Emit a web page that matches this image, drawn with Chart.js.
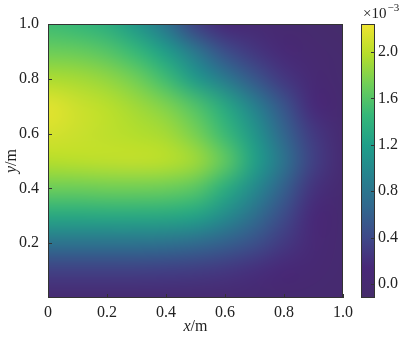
<!DOCTYPE html>
<html>
<head>
<meta charset="utf-8">
<script src="https://cdn.jsdelivr.net/npm/chart.js@4.4.0/dist/chart.umd.min.js"></script>
<style>
  html, body { margin: 0; padding: 0; background: #fff; }
  #wrap { position: relative; width: 411px; height: 339px; }
  #wrap canvas { position: absolute; left: 0; top: 0; }
</style>
</head>
<body>
<div id="wrap">
  <canvas id="main" width="411" height="339"></canvas>
  <canvas id="cbar" width="411" height="339"></canvas>
</div>
<script>
// grid nodes (m)
const xNodes = [0.0, 0.1, 0.2, 0.3, 0.4, 0.5, 0.6, 0.7, 0.8, 0.9, 1.0];
const yNodes = [1.0, 0.9, 0.8, 0.7, 0.6, 0.5, 0.4, 0.3, 0.2, 0.1, 0.0];

// values in units of 1e-3, one row per y node (top to bottom)
const rowY10 = [1.50, 1.45, 1.35, 1.12, 0.78, 0.33, 0.13, 0.04, 0.00, -0.05, -0.10];
const rowY09 = [1.70, 1.68, 1.60, 1.45, 1.18, 0.82, 0.45, 0.25, 0.10, 0.02, -0.04];
const rowY08 = [1.95, 1.92, 1.85, 1.72, 1.50, 1.15, 0.85, 0.52, 0.26, 0.07, -0.03];
const rowY07 = [2.18, 2.08, 2.00, 1.90, 1.78, 1.58, 1.30, 0.92, 0.50, 0.15, 0.00];
const rowY06 = [2.12, 2.07, 2.02, 1.97, 1.92, 1.75, 1.48, 1.12, 0.65, 0.28, 0.02];
const rowY05 = [1.98, 2.00, 2.02, 2.03, 2.00, 1.90, 1.65, 1.22, 0.78, 0.33, 0.03];
const rowY04 = [1.70, 1.70, 1.72, 1.72, 1.70, 1.62, 1.35, 1.00, 0.60, 0.22, 0.00];
const rowY03 = [1.30, 1.30, 1.31, 1.31, 1.30, 1.24, 1.02, 0.74, 0.42, 0.14, 0.00];
const rowY02 = [0.78, 0.78, 0.78, 0.78, 0.76, 0.70, 0.60, 0.46, 0.28, 0.10, 0.00];
const rowY01 = [0.33, 0.33, 0.33, 0.33, 0.32, 0.30, 0.26, 0.20, 0.12, 0.05, 0.00];
const rowY00 = [0.03, 0.03, 0.03, 0.03, 0.03, 0.02, 0.02, 0.01, 0.00, 0.00, -0.02];
const field = [rowY10, rowY09, rowY08, rowY07, rowY06, rowY05, rowY04, rowY03, rowY02, rowY01, rowY00];

const xTicks = [0, 0.2, 0.4, 0.6, 0.8, 1.0];
const yTicks = [0.2, 0.4, 0.6, 0.8, 1.0];
const cbTicks = [0.0, 0.4, 0.8, 1.2, 1.6, 2.0];
const cbMin = -0.12;
const cbMax = 2.24;

// viridis, slightly muted at both ends like the reference
const viridisStops = ['#452c6a', '#482878', '#3e4989', '#31688e', '#26828e',
                      '#1f9e89', '#35b779', '#6ece58', '#b5de2b', '#f0e430'];

function hexToRgb(h) {
  return [parseInt(h.slice(1, 3), 16), parseInt(h.slice(3, 5), 16), parseInt(h.slice(5, 7), 16)];
}
const stopRgb = viridisStops.map(hexToRgb);

function viridis(t) {
  t = Math.max(0, Math.min(1, t));
  const p = t * (stopRgb.length - 1);
  const i = Math.min(stopRgb.length - 2, Math.floor(p));
  const f = p - i;
  return stopRgb[i].map((c, k) => Math.round(c + (stopRgb[i + 1][k] - c) * f));
}

const FONT = 'Liberation Serif, DejaVu Serif, serif';
const TXT = '#222';

const heatmap = {
  id: 'heatmap',
  beforeDatasetsDraw(chart) {
    const { ctx, chartArea: a, scales: { x, y } } = chart;
    const nx = xNodes.length, ny = yNodes.length;
    const off = document.createElement('canvas');
    off.width = nx; off.height = ny;
    const octx = off.getContext('2d');
    const img = octx.createImageData(nx, ny);
    for (let j = 0; j < ny; j++) {
      for (let i = 0; i < nx; i++) {
        const c = viridis((field[j][i] - cbMin) / (cbMax - cbMin));
        const k = (j * nx + i) * 4;
        img.data[k] = c[0]; img.data[k + 1] = c[1]; img.data[k + 2] = c[2]; img.data[k + 3] = 255;
      }
    }
    octx.putImageData(img, 0, 0);
    const hx = (xNodes[1] - xNodes[0]) / 2, hy = (yNodes[0] - yNodes[1]) / 2;
    const left = x.getPixelForValue(xNodes[0] - hx);
    const right = x.getPixelForValue(xNodes[nx - 1] + hx);
    const top = y.getPixelForValue(yNodes[0] + hy);
    const bottom = y.getPixelForValue(yNodes[ny - 1] - hy);
    ctx.save();
    ctx.beginPath();
    ctx.rect(a.left, a.top, a.width, a.height);
    ctx.clip();
    ctx.imageSmoothingEnabled = true;
    ctx.imageSmoothingQuality = 'high';
    ctx.drawImage(off, left, top, right - left, bottom - top);
    ctx.restore();
  },
  afterDraw(chart) {
    const { ctx, chartArea: a, scales: { x, y } } = chart;
    ctx.save();
    ctx.strokeStyle = '#333';
    ctx.lineWidth = 1;
    ctx.strokeRect(a.left + 0.5, a.top + 0.5, a.width - 1, a.height - 1);
    ctx.beginPath();
    xTicks.forEach(v => {
      const px = Math.round(x.getPixelForValue(v)) + 0.5;
      ctx.moveTo(px, a.bottom); ctx.lineTo(px, a.bottom - 4);
    });
    yTicks.forEach(v => {
      const py = Math.round(y.getPixelForValue(v)) + 0.5;
      ctx.moveTo(a.left, py); ctx.lineTo(a.left + 4, py);
    });
    ctx.stroke();

    // axis titles
    ctx.fillStyle = TXT;
    ctx.textBaseline = 'alphabetic';
    ctx.font = 'italic 16px ' + FONT;
    const wx = ctx.measureText('x').width;
    ctx.font = '16px ' + FONT;
    const wm = ctx.measureText('/m').width;
    const cx = (a.left + a.right) / 2;
    let sx = cx - (wx + wm) / 2;
    ctx.font = 'italic 16px ' + FONT;
    ctx.fillText('x', sx, 331);
    ctx.font = '16px ' + FONT;
    ctx.fillText('/m', sx + wx, 331);

    ctx.translate(16, (a.top + a.bottom) / 2);
    ctx.rotate(-Math.PI / 2);
    ctx.font = 'italic 16px ' + FONT;
    const wy = ctx.measureText('y').width;
    sx = -(wy + wm) / 2;
    ctx.fillText('y', sx, 0);
    ctx.font = '16px ' + FONT;
    ctx.fillText('/m', sx + wy, 0);
    ctx.restore();
  }
};

new Chart(document.getElementById('main'), {
  type: 'scatter',
  data: { datasets: [] },
  options: {
    responsive: false,
    animation: false,
    layout: { padding: { top: 24, right: 68, left: 0, bottom: 0 } },
    plugins: { legend: { display: false }, tooltip: { enabled: false } },
    scales: {
      x: {
        type: 'linear', min: 0, max: 1,
        afterBuildTicks: s => { s.ticks = xTicks.map(v => ({ value: v })); },
        afterFit: s => { s.height = 41; },
        grid: { display: false, drawTicks: false },
        border: { display: false },
        ticks: {
          padding: 5, color: TXT, font: { family: FONT, size: 16 },
          callback: v => v === 0 ? '0' : v.toFixed(1)
        }
      },
      y: {
        type: 'linear', min: 0, max: 1,
        afterBuildTicks: s => { s.ticks = yTicks.map(v => ({ value: v })); },
        afterFit: s => { s.width = 48; },
        grid: { display: false, drawTicks: false },
        border: { display: false },
        ticks: {
          padding: 9, color: TXT, font: { family: FONT, size: 16 },
          callback: v => v.toFixed(1)
        }
      }
    }
  },
  plugins: [heatmap]
});

const colorbar = {
  id: 'colorbar',
  beforeDatasetsDraw(chart) {
    const { ctx, chartArea: a, scales: { y } } = chart;
    const y0 = y.getPixelForValue(cbMin), y1 = y.getPixelForValue(cbMax);
    const g = ctx.createLinearGradient(0, y0, 0, y1);
    viridisStops.forEach((c, i) => g.addColorStop(i / (viridisStops.length - 1), c));
    ctx.save();
    ctx.fillStyle = g;
    ctx.fillRect(a.left, a.top, a.width, a.height);
    ctx.strokeStyle = '#333';
    ctx.lineWidth = 1;
    ctx.strokeRect(a.left + 0.5, a.top + 0.5, a.width - 1, a.height - 1);
    ctx.beginPath();
    cbTicks.forEach(v => {
      const py = Math.round(y.getPixelForValue(v)) + 0.5;
      ctx.moveTo(a.right, py); ctx.lineTo(a.right - 4, py);
    });
    ctx.stroke();
    // offset text above the bar
    ctx.fillStyle = TXT;
    ctx.font = '15px ' + FONT;
    ctx.textBaseline = 'alphabetic';
    ctx.fillText('\u00d710', a.left + 2, 18);
    const w = ctx.measureText('\u00d710').width;
    ctx.font = '11px ' + FONT;
    ctx.fillText('\u22123', a.left + 2 + w + 1, 11);
    ctx.restore();
  }
};

new Chart(document.getElementById('cbar'), {
  type: 'scatter',
  data: { datasets: [] },
  options: {
    responsive: false,
    animation: false,
    layout: { padding: { top: 24, right: 0, left: 361, bottom: 41 } },
    plugins: { legend: { display: false }, tooltip: { enabled: false } },
    scales: {
      x: { type: 'linear', min: 0, max: 1, display: false },
      y: {
        type: 'linear', position: 'right', min: cbMin, max: cbMax,
        afterBuildTicks: s => { s.ticks = cbTicks.map(v => ({ value: v })); },
        afterFit: s => { s.width = 36; },
        grid: { display: false, drawTicks: false },
        border: { display: false },
        ticks: {
          padding: 3, color: TXT, font: { family: FONT, size: 16 },
          callback: v => v.toFixed(1)
        }
      }
    }
  },
  plugins: [colorbar]
});
</script>
</body>
</html>
